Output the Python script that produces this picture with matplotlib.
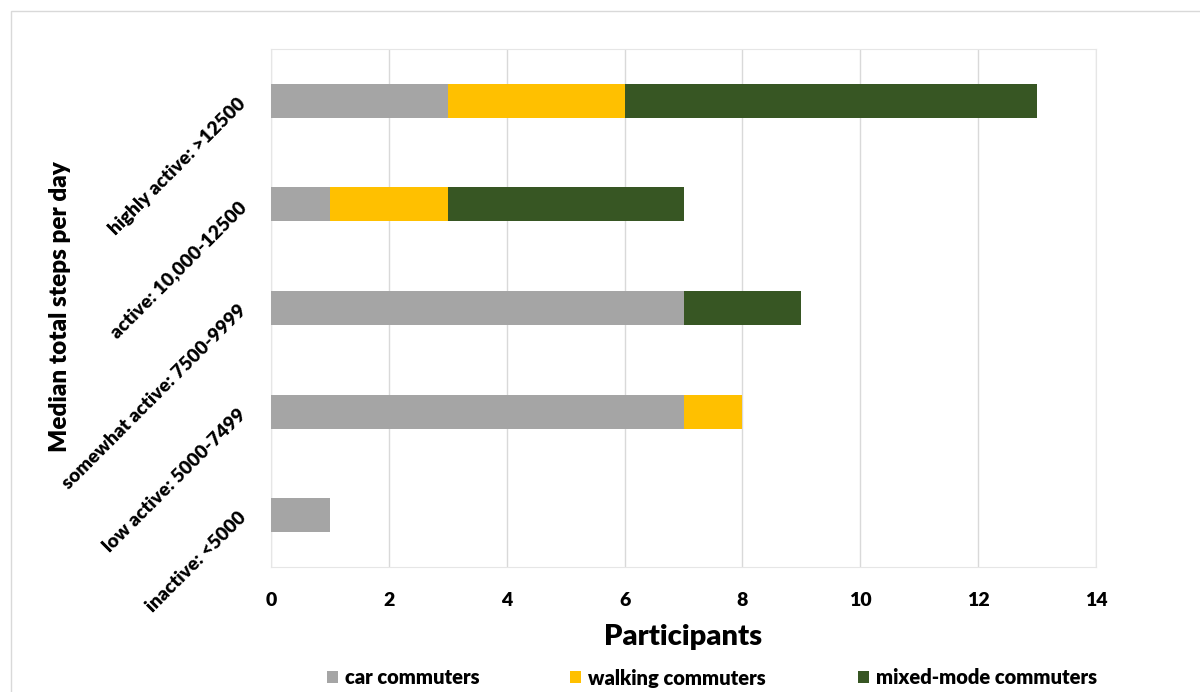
import matplotlib
matplotlib.use("Agg")
import matplotlib.pyplot as plt
from matplotlib.patches import Rectangle

categories = ["inactive: <5000", "low active: 5000-7499", "somewhat active: 7500-9999",
              "active: 10,000-12500", "highly active: >12500"]
car = [1, 7, 7, 1, 3]
walking = [0, 1, 0, 2, 3]
mixed = [0, 0, 2, 4, 7]
series_names = ["car commuters", "walking commuters", "mixed-mode commuters"]
colors = ["#A5A5A5", "#FFC000", "#375623"]
xticks = [0, 2, 4, 6, 8, 10, 12, 14]

plt.rcParams['font.family'] = ['Lato', 'DejaVu Sans']
W = 'heavy'

fig = plt.figure(figsize=(12, 6.92), dpi=100)
ax = fig.add_axes([271/1200, 1 - 567/692, (1096 - 271)/1200, (567 - 49)/692])

# outer frame
fig.patches.append(Rectangle((11/1200, -0.1), 1.2, 1 - 11/692 + 0.1, transform=fig.transFigure,
                             fill=False, edgecolor="#D9D9D9", linewidth=1.0))

y = list(range(len(categories)))
h = 0.33
left = [0]*len(categories)
handles = []
for vals, name, c in zip([car, walking, mixed], series_names, colors):
    bc = ax.barh(y, vals, height=h, left=left, color=c, label=name, zorder=3)
    handles.append(bc)
    left = [l + v for l, v in zip(left, vals)]

ax.set_xlim(0, 14)
ax.set_ylim(-0.5, 4.5)
ax.set_xticks(xticks)
ax.set_xticklabels([str(t) for t in xticks], fontsize=14, fontweight=W)
ax.set_yticks(y)
ax.set_yticklabels(categories, rotation=45, ha='right', va='center', rotation_mode='anchor',
                   fontsize=13.8, fontweight=W)
ax.tick_params(axis='both', length=0)
ax.tick_params(axis='x', pad=18)
ax.tick_params(axis='y', pad=20)
ax.grid(axis='x', color="#D9D9D9", linewidth=1, zorder=0)
for s in ax.spines.values():
    s.set_color("#E6E6E6")

fig.text((271 + 1096) / 2 / 1200, 1 - 637/692, "Participants", fontsize=21, fontweight=W,
         ha='center', va='center')
fig.text(60/1200, 1 - 307/692, "Median total steps per day", fontsize=17.5, fontweight=W,
         ha='center', va='center', rotation=90)

leg_x = [327, 570, 858]
for hnd, name, lx in zip(handles, series_names, leg_x):
    leg = fig.legend([hnd], [name], loc='center left', bbox_to_anchor=(lx/1200, 1 - 678/692),
                     frameon=False, fontsize=14.5, handlelength=0.55, handleheight=0.55,
                     handletextpad=0.35, borderpad=0, borderaxespad=0)
    for t in leg.get_texts():
        t.set_fontweight(W)

fig.savefig("out.png", dpi=100)
